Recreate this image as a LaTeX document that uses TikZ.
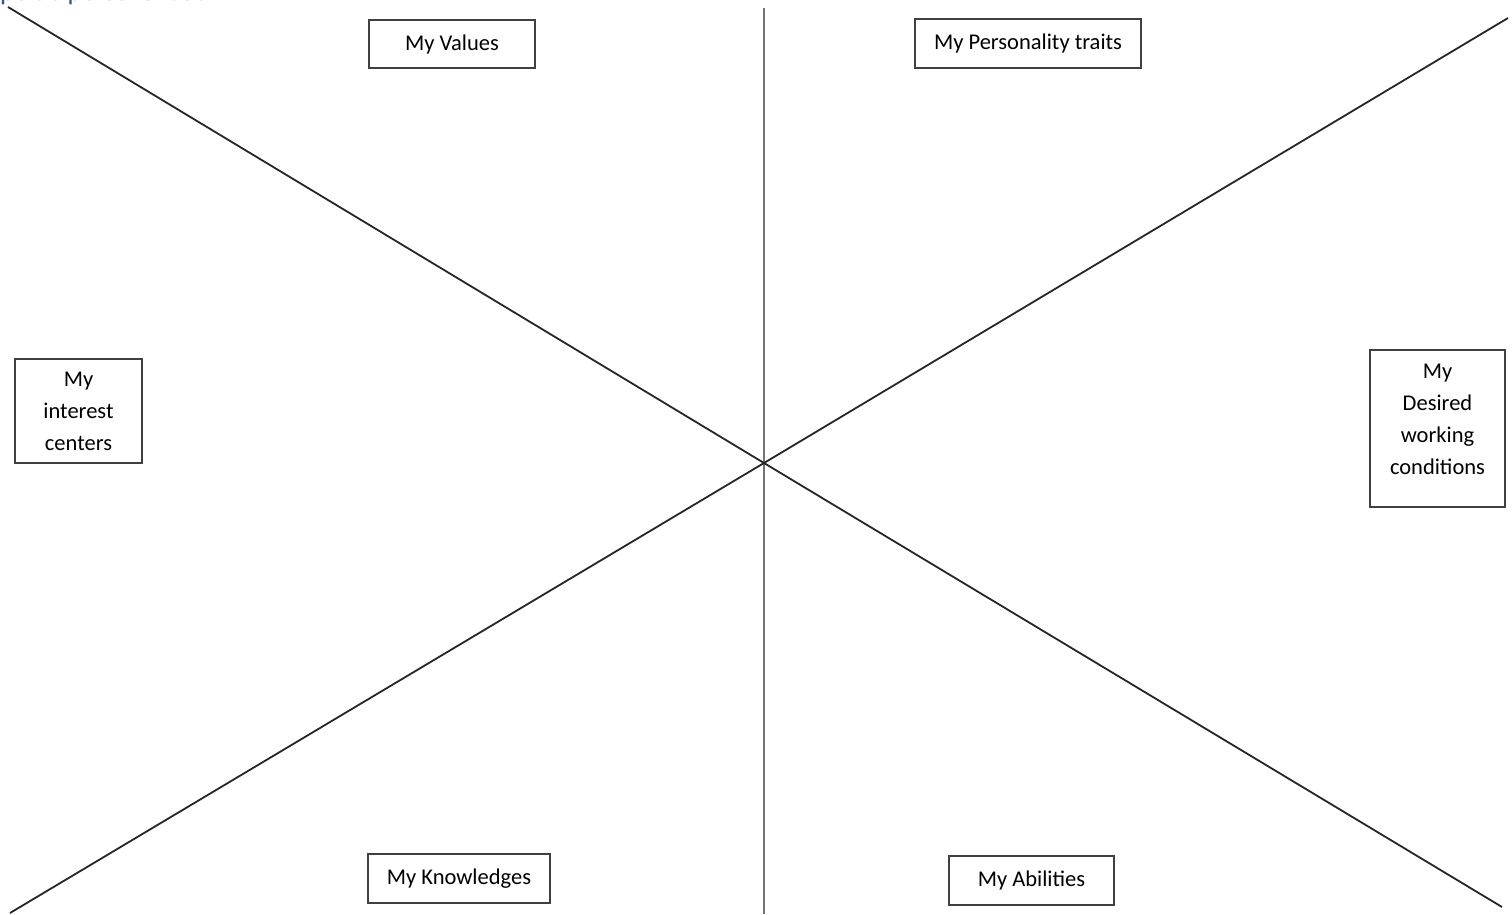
\documentclass[tikz,border=0pt]{standalone}
\usepackage{fontspec}
\setmainfont{Carlito}
\begin{document}
\begin{tikzpicture}[x=1pt,y=-1pt,
  axisline/.style={draw=black!55, line width=2.4pt},
  diagline/.style={draw=black!85, line width=1.8pt},
  labelbox/.style={draw=black!75, line width=1.8pt, fill=white, align=center, inner sep=0pt,
    font={\fontsize{22.5}{32}\selectfont}, text=black},
  headtext/.style={font={\fontsize{27}{30}\selectfont}, inner sep=0pt, anchor=base west}
]
\useasboundingbox (0,0) rectangle (1512,914);
\fill[white] (0,0) rectangle (1512,914);
\begin{scope}
  \clip (0,0) rectangle (1512,914);
  \node[headtext, text={rgb,255:red,47;green,84;blue,150}] (head) at (0,0) {pe de personalidad};
\end{scope}
% center and line end points
\coordinate (c) at (764,463);
\coordinate (vt) at (764,8);
\coordinate (vb) at (764,914);
\coordinate (tl) at (8,7);
\coordinate (br) at (1502,907);
\coordinate (bl) at (10,913);
\coordinate (tr) at (1508,18);
\draw[axisline] (vt) -- (vb);
\draw[diagline] (tl) -- (c) -- (br);
\draw[diagline] (bl) -- (c) -- (tr);
% boxes
\node[labelbox, minimum width=166pt, minimum height=48pt] (values) at (452,44) {\raisebox{3pt}{My Values}};
\node[labelbox, minimum width=226pt, minimum height=49pt] (pers) at (1028,43.5) {\raisebox{2pt}{My Personality traits}};
\node[labelbox, minimum width=127pt, minimum height=104pt] (interest) at (78.5,411) {My\\interest\\centers};
\node[labelbox, minimum width=135pt, minimum height=157pt] (desired) at (1437.5,428.5) {My\\Desired\\working\\conditions\\[-14pt]\mbox{}};
\node[labelbox, minimum width=182pt, minimum height=49pt] (know) at (459,878.5) {\raisebox{3pt}{My Knowledges}};
\node[labelbox, minimum width=165pt, minimum height=49pt] (abil) at (1031.5,880.5) {\raisebox{1pt}{My Abilities}};
\end{tikzpicture}
\end{document}
